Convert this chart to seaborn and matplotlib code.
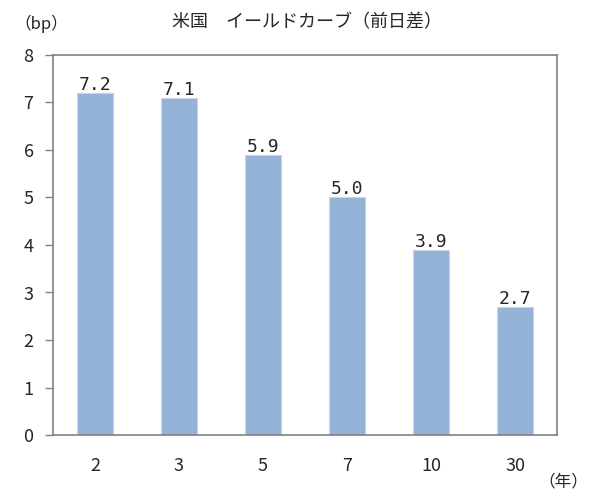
import matplotlib
matplotlib.use("Agg")
import matplotlib.pyplot as plt
import seaborn as sns
import pandas as pd

categories = ["2", "3", "5", "7", "10", "30"]
values = [7.2, 7.1, 5.9, 5.0, 3.9, 2.7]
yticks = [0, 1, 2, 3, 4, 5, 6, 7, 8]
title = "米国　イールドカーブ（前日差）"

sns.set_theme(style="white")
plt.rcParams['font.family'] = ['Noto Sans CJK JP', 'DejaVu Sans']

df = pd.DataFrame({"cat": categories, "val": values})

fig = plt.figure(figsize=(5.94, 4.98), dpi=100)
ax = fig.add_axes([53/594, 63/498, (557-53)/594, (435-55)/498])
sns.barplot(data=df, x="cat", y="val", color="#95B3D7", width=0.43,
            saturation=1, edgecolor="#C5D6EA", linewidth=0.8, ax=ax)

ax.set_ylim(0, 8)
ax.set_yticks(yticks)
ax.set_xlim(-0.5, len(categories) - 0.5)
ax.set_xlabel("")
ax.set_ylabel("")
for s in ax.spines.values():
    s.set_color("#808080")
    s.set_linewidth(1.2)
ax.tick_params(axis="y", which="both", left=True, length=6, width=1, color="#808080",
               labelsize=13, pad=8)
ax.tick_params(axis="x", bottom=False, labelsize=13, pad=10)

for i, v in enumerate(values):
    ax.text(i, v - 0.02, f"{v:.1f}", ha="center", va="bottom", fontsize=13,
            family=["DejaVu Sans Mono"])

fig.text(307/594, 1 - 22/498, title, ha="center", va="center", fontsize=13)
fig.text(14/594, 1 - 24/498, "（bp）", ha="left", va="center", fontsize=12)
fig.text(588/594, 1 - 482/498, "（年）", ha="right", va="center", fontsize=12)

fig.savefig("out.png", dpi=100)
